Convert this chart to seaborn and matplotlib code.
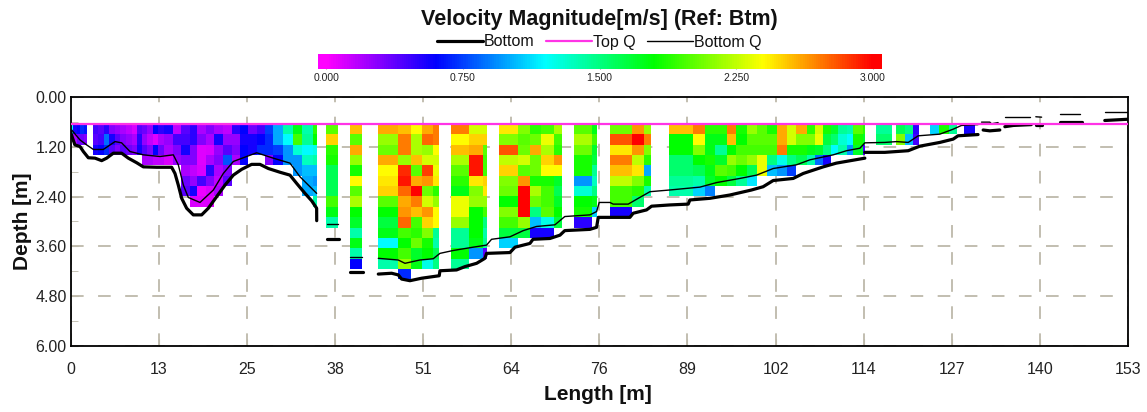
import numpy as np
import pandas as pd
import matplotlib
matplotlib.use('Agg')
import matplotlib.pyplot as plt
from matplotlib.colors import LinearSegmentedColormap
from matplotlib.ticker import MultipleLocator
from matplotlib.transforms import Affine2D
import seaborn as sns

# Ensemble edges along the section [m]
col_left = [0.0, 0.29, 0.86, 1.44, 1.92, 3.18, 4.0, 4.82, 5.59, 6.41, 7.23, 8.0, 8.82, 9.64, 10.27, 11.09, 11.86,
            12.68, 13.5, 14.75, 15.91, 17.17, 18.32, 19.58, 20.73, 22.08, 23.29, 24.5, 25.7, 26.91, 28.07, 29.32,
            30.67, 32.07, 33.52, 34.96,
            37.03, 40.41, 44.41, 47.45, 49.19, 50.83, 52.46, 55.07, 57.67, 59.6, 61.97, 64.76, 66.45, 68.14, 69.97,
            72.82, 75.42, 78.03, 81.16, 82.95, 86.61, 90.08, 91.77, 93.22, 94.91, 96.26, 97.9, 99.35, 100.79, 102.24,
            103.59, 105.04, 106.58, 107.69, 108.89, 110.0, 111.06, 112.27, 113.24, 114.59,
            116.51, 119.5, 120.71, 121.91, 124.33, 125.68, 127.12, 129.24]
col_right = [0.29, 0.86, 1.44, 1.92, 2.41, 4.0, 4.82, 5.59, 6.41, 7.23, 8.0, 8.82, 9.64, 10.27, 11.09, 11.86, 12.68,
             13.5, 14.75, 15.91, 17.17, 18.32, 19.58, 20.73, 22.08, 23.29, 24.5, 25.7, 26.91, 28.07, 29.32, 30.67,
             32.07, 33.52, 34.96, 35.59,
             38.72, 42.1, 47.45, 49.19, 50.83, 52.46, 53.33, 57.67, 59.6, 60.28, 64.76, 66.45, 68.14, 69.97, 71.13,
             75.42, 76.1, 81.16, 82.95, 83.96, 90.08, 91.77, 93.22, 94.91, 96.26, 97.9, 99.35, 100.79, 102.24, 103.59,
             105.04, 106.58, 107.69, 108.89, 110.0, 111.06, 112.27, 113.24, 114.59, 114.92,
             118.78, 120.71, 121.91, 122.73, 125.68, 127.12, 128.18, 130.84]

# Velocity per ensemble, top bin first [m/s]
col_speed = [
    [1.2], [.55, .2], [.6, .35], [.7, .35], [.65, .3],
    [.45, .4, .55], [.4, .45, .6], [.5, .85, .7], [.3, .55, .4], [.25, .4, .3], [.2, .3, .4],
    [.15, .25, .35], [.1, .2, .3], [.4, .5, .55], [.35, .25, .4, .2], [.25, .15, .3, .2],
    [.6, .08, .6, .15], [.5, .2, .35, .15], [.55, .25, .2, .1], [.15, .45, .3, .25],
    [.4, .45, .55, .3, .2, .35, .4], [.5, .5, .3, .3, .15, .25, .55, .1],
    [.2, .3, .08, .08, .1, .45, .05, .08], [.3, .2, .1, .2, .5, .3, .1, .08],
    [.2, .55, .25, .3, .2, .15, .2], [.15, .25, .4, .8, .3, .4], [.5, .25, .3, .2],
    [.6, .55, .6, .6], [.35, .55, .55], [.45, .6, .7], [.75, .7, .7, .3], [1.0, 1.0, .75, .6],
    [1.4, 1.2, .95, .95], [1.75, 1.95, 1.3, .95, .95], [1.4, 1.45, 1.2, 1.35, 1.05, 1.0, 1.0],
    [1.9, 1.8, 1.25, 1.4, 1.05, .95, 1.05, 1.4],
    [2.0, 2.5, 1.9, 1.85, 1.6, 1.6, 1.6, 1.95, 1.75, 1.4],
    [2.55, 2.0, 2.6, 2.15, 1.85, 2.4, 2.0, 2.2, 1.8, 1.7, 1.4, 1.75, 1.4, .6],
    [2.6, 2.15, 2.05, 2.6, 2.4, 2.45, 2.5, 2.0, 1.8, 1.65, 1.75, 1.2, 1.8, 1.4],
    [2.55, 2.7, 2.7, 2.15, 2.9, 2.95, 2.75, 2.6, 2.65, 2.75, 1.95, 1.8, 1.95, 2.15, .7],
    [2.4, 2.2, 2.2, 2.55, 2.0, 2.6, 3.0, 2.7, 2.55, 1.95, 1.9, 2.05, 1.7, 1.75],
    [2.6, 2.75, 2.15, 2.3, 2.85, 2.65, 2.05, 2.3, 2.65, 2.5, 2.1, 1.85, 1.8, 1.25],
    [2.7, 2.7, 2.4, 2.3, 2.35, 2.45, 1.9, 2.15, 2.4, 2.4, 1.45, 1.4, 1.6, 1.5],
    [2.7, 2.4, 2.55, 2.2, 2.0, 1.9, 1.75, 2.35, 2.35, 2.15, 1.45, 1.45, 1.8, 1.45],
    [2.3, 2.5, 2.6, 2.95, 2.95, 2.45, 2.1, 2.15, 1.8, 1.8, 1.8, 1.75, .95],
    [2.3, 2.5, 2.0, 1.95, 1.95, 2.5, 2.45, 2.15, 1.95, 1.5, 1.4, 1.45, .4],
    [2.45, 2.1, 2.8, 2.25, 2.5, 2.1, 2.05, 1.8, 2.1, 1.95, 1.65, 1.1],
    [2.1, 2.0, 2.05, 2.3, 2.0, 2.65, 3.0, 3.0, 3.0, 2.15, 1.65],
    [1.9, 2.05, 2.6, 2.05, 2.05, 1.85, 2.2, 2.05, 1.5, 1.05, .55],
    [1.95, 2.35, 2.2, 2.5, 2.4, 1.85, 1.95, 1.95, 2.0, 1.25, .55],
    [2.2, 1.95, 1.9, 2.65, 2.4, 1.7, 1.6, 1.7, 1.8, 1.65],
    [2.0, 2.2, 2.05, 1.85, 1.85, .95, 1.3, 1.8, 1.85, .5],
    [1.75, 1.95, 1.7, 1.65, 1.45, 1.35, 1.5, 1.75, 1.1],
    [2.05, 2.8, 2.45, 2.7, 2.55, 2.25, 1.95, 1.95, .55],
    [2.65, 3.0, 2.65, 2.25, 2.45, 2.1, 1.9, 1.55],
    [2.15, 2.7, 2.1, 1.9, 1.0, 1.85, 1.4],
    [2.55, 1.8, 1.8, 1.55, 1.55, 1.45, 1.4],
    [2.7, 2.4, 2.1, 1.8, 1.6, 1.4, 1.1],
    [1.9, 1.75, 1.75, 1.85, 1.75, 1.7, .9],
    [1.9, 1.75, 1.45, 1.7, 2.0, 1.8],
    [2.7, 2.55, 1.8, 2.15, 1.95, 1.65],
    [1.85, 1.8, 1.95, 2.05, 1.8, 1.45],
    [2.15, 2.0, 1.95, 2.15, 1.6, 1.15],
    [2.0, 2.0, 1.95, 2.35, 2.35],
    [1.85, 2.0, 1.95, 1.5, 1.05],
    [2.6, 2.6, 2.7, 1.25, .95],
    [2.3, 2.3, 1.85, 1.5, .75],
    [2.6, 2.1, 1.85, 1.6],
    [1.9, 2.1, 1.75, 1.4],
    [2.3, 2.35, 1.7, .85],
    [1.85, 1.65, 1.5, .55],
    [1.7, 1.55, 1.2],
    [1.45, 1.3, 1.4],
    [1.4, 1.2, .95],
    [2.0, 1.85, 1.7],
    [1.9, 1.7, .45],
    [1.45, 1.55],
    [1.6, 2.1],
    [1.5, 1.05],
    [.5, .45],
    [1.1],
    [1.85],
    [1.45],
    [.55],
]

# Bottom and Bottom Q traces, nan marks a gap in the record
bottom_len = [0, .4, .62, 1.35, 1.83, 2.55, 3.52, 4.48, 5.2, 6.17, 7.37, 8.34, 9.54, 10.51, 12.44, 14.61, 15.09, 15.57,
              16.06, 16.78, 17.74, 18.95, 19.91, 21.12, 22.33, 23.53, 24.74, 26.18, 27.39, 28.6, 30.28, 31.73, 32.7,
              33.9, 34.87, 35.59, 35.6, np.nan,
              37.13, 38.86, np.nan, 40.41, 42.24, np.nan,
              44.51, 46.44, 47.4, 47.88, 49.09, 50.78, 53.33, 53.43, 55.84, 57.05, 58.74, 59.94, 60.18, 63.56, 64.3,
              66.45, 66.9, 69.35, 70.8, 71.5, 75.13, 76.1, 76.34, 80.92, 81.4, 83.33, 84.06, 86.7, 89.36, 89.6, 92.5,
              95.39, 98.5, 100.2, 101.66, 104.55, 106, 108.9, 110.8, 114.92, np.nan,
              114.92, 117.81, 121.2, 122.88, 125.77, 127.7, 128.4, 131.3, np.nan,
              132.04, 133, 134.45, np.nan, 135.18, 136.4, 139, np.nan, 139.7, 140.5, np.nan,
              143.2, 146.3, np.nan, 149.64, 153]
bottom_dep = [.85, 1.05, 1.15, 1.19, 1.31, 1.46, 1.47, 1.53, 1.47, 1.35, 1.35, 1.47, 1.58, 1.68, 1.69, 1.69, 1.84, 2.12,
              2.44, 2.68, 2.84, 2.84, 2.68, 2.40, 2.12, 1.88, 1.74, 1.62, 1.62, 1.72, 1.81, 1.88, 2.08,
              2.32, 2.50, 2.68, 2.98, np.nan,
              3.43, 3.43, np.nan, 4.23, 4.23, np.nan,
              4.27, 4.25, 4.29, 4.39, 4.43, 4.37, 4.31, 4.19, 4.17, 4.09, 4.01, 3.89, 3.77, 3.75, 3.62,
              3.53, 3.43, 3.41, 3.33, 3.22, 3.19, 3.14, 2.90, 2.90, 2.80, 2.72, 2.63, 2.60, 2.58, 2.48, 2.44,
              2.36, 2.24, 2.16, 2.01, 1.96, 1.84, 1.68, 1.59, 1.47, np.nan,
              1.33, 1.33, 1.29, 1.18, 1.09, 1.01, .93, .90, np.nan,
              .79, .81, .79, np.nan, .71, .68, .66, np.nan, .67, .67, np.nan,
              .60, .60, np.nan, .56, .53]
bottom_q_len = [.14, 1.35, 2.31, 3.28, 4.72, 6.41, 7.37, 8.58, 10.51, 12.92, 14.85, 15.57, 16.3, 17.02, 18.71, 20.64,
                22.08, 23.53, 26.91, 29.32, 31.73, 33.18, 35.59, np.nan,
                37.13, 38.72, np.nan, 40.41, 42.1, np.nan,
                44.51, 47.4, 48.37, 50.54, 52.46, 53.43, 55.36, 58.25, 60.18, 60.9, 63.56, 65.49, 67.41, 70.07, 71.5,
                75.13, 76.1, 76.48, 78.03, 78.5, 80.68, 82.13, 83.82, 86.61, 91.05, 93.46, 96.84, 99.25, 101.66,
                105.04, 106.97, 110.34, 112.27, 114.2, 114.92, 117.81, 119.5, 121.2, 122.64, 125.77, 127.7, 128.9,
                131.3, np.nan,
                131.8, 133, 133.25, 134.2, np.nan, 135.18, 138.8, np.nan, 139.66, 140.5, np.nan,
                143.2, 146, np.nan, 149.64, 153]
bottom_q_dep = [.79, 1.03, 1.15, 1.26, 1.26, 1.07, 1.10, 1.31, 1.39, 1.43, 1.39, 1.63, 2.12, 2.42, 2.54, 2.24,
                1.84, 1.55, 1.34, 1.47, 1.59, 1.92, 2.32, np.nan,
                3.06, 3.06, np.nan, 3.85, 3.85, np.nan,
                3.89, 3.93, 4.01, 3.93, 3.90, 3.77, 3.70, 3.62, 3.57, 3.43, 3.37, 3.22, 3.12, 3.08, 2.88,
                2.84, 2.76, 2.54, 2.54, 2.58, 2.58, 2.44, 2.28, 2.24, 2.17, 2.06, 1.96, 1.88, 1.72,
                1.63, 1.51, 1.39, 1.29, 1.23, 1.10, 1.09, 1.07, 1.09, .93, .89, .77, .68,
                .66, np.nan,
                .60, .60, .64, .61, np.nan, .47, .47, np.nan, .47, .48, np.nan,
                .40, .40, np.nan, .36, .36]
top_q_len = [0, 153]
top_q_dep = [.645, .645]

x_ticks = [0, 12.75, 25.5, 38.25, 51, 63.75, 76.5, 89.25, 102, 114.75, 127.5, 140.25, 153]
x_labels = ['0', '13', '25', '38', '51', '64', '76', '89', '102', '114', '127', '140', '153']
y_ticks = [0, 1.2, 2.4, 3.6, 4.8, 6.0]
y_labels = ['0.00', '1.20', '2.40', '3.60', '4.80', '6.00']
cbar_ticks = [0, .75, 1.5, 2.25, 3.0]
cbar_labels = ['0.000', '0.750', '1.500', '2.250', '3.000']

sns.set_style('white')
plt.rcParams['font.family'] = ['Liberation Sans', 'DejaVu Sans']

W, H = 1147, 412
fig = plt.figure(figsize=(W / 100, H / 100), dpi=100)
ax = fig.add_axes([70.7 / W, 1 - 345.7 / H, (1128 - 70.7) / W, (345.7 - 97.3) / H])
cax = fig.add_axes([318 / W, 1 - 69 / H, 564 / W, 15 / H])

# Colour scale: magenta-blue-cyan-green-yellow-red in even steps of 0.6 m/s
vmin, vmax = -0.045, 3.05
stops = [0, .6, 1.2, 1.8, 2.4, 3.0]
colours = ['#ff00ff', '#0000ff', '#00ffff', '#00ff00', '#ffff00', '#ff0000']
cmap = LinearSegmentedColormap.from_list(
    'velocity', [(0, colours[0])] + [((s - vmin) / (vmax - vmin), c) for s, c in zip(stops, colours)] + [(1, colours[-1])])

# Fill a regular grid (0.1 m x 0.25 m bins) from the ensembles
dx, dz, z0 = 0.1, 0.25, 0.645
grid = np.full((15, 1530), np.nan)
for left, right, speeds in zip(col_left, col_right, col_speed):
    i0, i1 = int(round(left / dx)), int(round(right / dx))
    grid[:len(speeds), i0:i1] = np.array(speeds)[:, None]

sns.heatmap(grid, ax=ax, cmap=cmap, vmin=vmin, vmax=vmax, cbar_ax=cax,
            cbar_kws={'orientation': 'horizontal'}, xticklabels=False, yticklabels=False)
# heatmap draws in bin numbers, place it in metres
mesh = ax.collections[0]
mesh.set_transform(Affine2D().scale(dx, dz).translate(0, z0) + ax.transData)
mesh.set_zorder(1)
mesh.set_edgecolor('none')
ax.set_xlim(0, 153)
ax.set_ylim(6, 0)


def draw_trace(lengths, depths, **kw):
    df = pd.DataFrame({'length': lengths, 'depth': depths})
    df['seg'] = df['length'].isna().cumsum()
    sns.lineplot(data=df.dropna(), x='length', y='depth', units='seg', estimator=None, sort=False, ax=ax, **kw)


draw_trace(bottom_q_len, bottom_q_dep, color='black', lw=1.0, zorder=3, label='Bottom Q')
draw_trace(bottom_len, bottom_dep, color='black', lw=2.3, zorder=4, label='Bottom')
draw_trace(top_q_len, top_q_dep, color='#ff33e6', lw=1.6, zorder=5, label='Top Q')
handles, labels = ax.get_legend_handles_labels()
ax.get_legend().remove()
order = [labels.index(n) for n in ['Bottom', 'Top Q', 'Bottom Q']]
fig.legend([handles[i] for i in order], [labels[i] for i in order], loc='center', ncol=3, frameon=False,
           bbox_to_anchor=(599 / W, 1 - 42 / H), fontsize=11.5, handlelength=2.9, handletextpad=0.05,
           columnspacing=0.7, labelcolor='#111111')

# Grid and frame
grid_col = '#bdb9aa'
ax.set_axisbelow(True)
ax.grid(True, which='major', color=grid_col, lw=1.3, linestyle=(0, (7, 8)), zorder=0)
ax.set_xticks(x_ticks)
ax.set_xticklabels(x_labels, fontsize=11.5, color='#222222')
ax.set_yticks(y_ticks)
ax.set_yticklabels(y_labels, fontsize=11.5, color='#222222', rotation=0)
ax.yaxis.set_minor_locator(MultipleLocator(0.6))
ax.tick_params(axis='x', which='major', direction='in', length=5, color=grid_col, pad=12)
ax.tick_params(axis='y', which='major', direction='in', length=5, color=grid_col, pad=3)
ax.tick_params(axis='y', which='minor', direction='in', length=5, color=grid_col, left=True)
ax.tick_params(left=True, bottom=True)
for side in ax.spines.values():
    side.set_visible(True)
    side.set_color('black')
    side.set_linewidth(1.3)

fig.text(598 / W, 1 - 394 / H, 'Length [m]', fontsize=15, fontweight='bold', ha='center', va='center', color='#111111')
fig.text(23 / W, 1 - 221 / H, 'Depth [m]', rotation=90, fontsize=15, fontweight='bold', ha='center', va='center', color='#111111')
fig.text(599 / W, 1 - 19 / H, 'Velocity Magnitude[m/s] (Ref: Btm)', fontsize=15.5, fontweight='bold', ha='center', va='center', color='#111111')

# Colour bar
cax.set_xticks(cbar_ticks)
cax.set_xticklabels(cbar_labels, fontsize=7.5, color='#222222')
cax.tick_params(axis='x', direction='in', length=3, color='#999999', pad=3, bottom=True)
cax.minorticks_off()

fig.savefig('out.png', dpi=100)
